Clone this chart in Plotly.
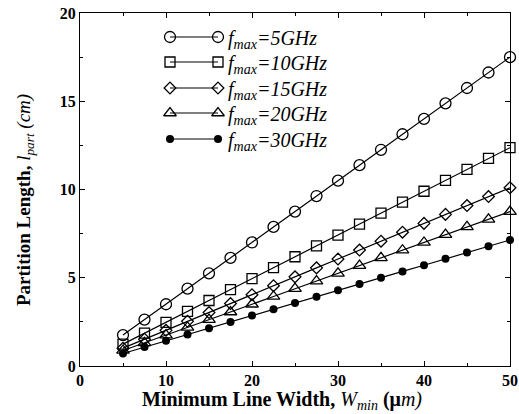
import plotly.graph_objects as go

# Data
w_min = [5, 7.5, 10, 12.5, 15, 17.5, 20, 22.5, 25, 27.5, 30, 32.5, 35, 37.5, 40, 42.5, 45, 47.5, 50]
l_5ghz = [1.75, 2.63, 3.5, 4.38, 5.25, 6.13, 7.0, 7.88, 8.75, 9.63, 10.5, 11.38, 12.25, 13.13, 14.0, 14.88, 15.75, 16.63, 17.5]
l_10ghz = [1.24, 1.86, 2.47, 3.09, 3.71, 4.33, 4.95, 5.57, 6.19, 6.81, 7.42, 8.04, 8.66, 9.28, 9.9, 10.52, 11.14, 11.76, 12.37]
l_15ghz = [1.01, 1.52, 2.02, 2.53, 3.03, 3.54, 4.04, 4.55, 5.05, 5.56, 6.06, 6.57, 7.07, 7.58, 8.08, 8.59, 9.09, 9.6, 10.1]
l_20ghz = [0.88, 1.31, 1.75, 2.19, 2.63, 3.06, 3.5, 3.94, 4.38, 4.81, 5.25, 5.69, 6.13, 6.56, 7.0, 7.44, 7.88, 8.31, 8.75]
l_30ghz = [0.71, 1.07, 1.43, 1.79, 2.14, 2.5, 2.86, 3.21, 3.57, 3.93, 4.29, 4.64, 5.0, 5.36, 5.71, 6.07, 6.43, 6.79, 7.14]
labels = ["5GHz", "10GHz", "15GHz", "20GHz", "30GHz"]
x_ticks = [0, 10, 20, 30, 40, 50]
y_ticks = [0, 5, 10, 15, 20]
series = [l_5ghz, l_10ghz, l_15ghz, l_20ghz, l_30ghz]

SERIF = "Liberation Serif"
W, H = 519, 414
ML, MR, MT, MB = 80, 9, 13, 48

styles = [
    dict(symbol="circle-open", size=11, line=dict(width=1.3, color="black")),
    dict(symbol="square-open", size=10, line=dict(width=1.3, color="black")),
    dict(symbol="diamond-open", size=9, line=dict(width=1.3, color="black")),
    dict(symbol="triangle-up-open", size=11, line=dict(width=1.3, color="black")),
    dict(symbol="circle", size=8, line=dict(width=0, color="black")),
]

fig = go.Figure()
for ys, st, lab in zip(series, styles, labels):
    fig.add_trace(go.Scatter(
        x=w_min, y=ys, mode="lines+markers", name=lab,
        line=dict(color="black", width=1.2),
        marker=dict(color="black", **st),
        showlegend=False, cliponaxis=False,
    ))

# Custom legend on an overlay pixel axis (x2: 0..430 px, y2: 0..353 px from plot top)
legend_rows = [24, 49, 75, 100, 126]
for st, lab, yr in zip(styles, labels, legend_rows):
    fig.add_trace(go.Scatter(
        x=[90, 138], y=[yr, yr], xaxis="x2", yaxis="y2",
        mode="lines+markers", line=dict(color="black", width=1.2),
        marker=dict(color="black", **st),
        showlegend=False, hoverinfo="skip",
    ))
    fig.add_annotation(
        x=146, y=yr + 2, xref="x2", yref="y2", xanchor="left", yanchor="middle",
        text="<i>f<sub>max</sub>=" + lab + "</i>", showarrow=False,
        font=dict(family=SERIF, size=20, color="black"),
    )

axis_style = dict(
    showline=True, linecolor="black", linewidth=1.3, mirror="ticks",
    ticks="inside", ticklen=5, tickwidth=1, tickcolor="black",
    showgrid=False, zeroline=False,
    tickfont=dict(family=SERIF, size=16, color="black"),
)

fig.update_layout(
    width=W, height=H,
    font=dict(family=SERIF, color="black"),
    margin=dict(l=ML, r=MR, t=MT, b=MB, autoexpand=False),
    paper_bgcolor="white", plot_bgcolor="white",
    xaxis=dict(range=[0, 50], tickvals=x_ticks, ticktext=["<b>%d</b>" % v for v in x_ticks],
               minor=dict(dtick=5, tick0=0, ticks="inside", ticklen=3, tickcolor="black"),
               **axis_style),
    yaxis=dict(range=[0, 20], tickvals=y_ticks, ticktext=["<b>%d</b>" % v for v in y_ticks],
               minor=dict(dtick=2.5, tick0=0, ticks="inside", ticklen=3, tickcolor="black"),
               **axis_style),
    xaxis2=dict(range=[0, 430], overlaying="x", visible=False, fixedrange=True),
    yaxis2=dict(range=[353, 0], overlaying="y", visible=False, fixedrange=True),
)

pw, ph = W - ML - MR, H - MT - MB


def px2paper(px, py):
    return (px - ML) / pw, (H - MB - py) / ph


# Axis titles
tx, ty = px2paper(282, 400)
fig.add_annotation(
    x=tx, y=ty, xref="paper", yref="paper", showarrow=False,
    text="<b>Minimum Line Width, </b><i>W<sub>min</sub></i> <b>(μ</b><i>m)</i>",
    font=dict(family=SERIF, size=20, color="black"),
    xanchor="center", yanchor="middle",
)
tx, ty = px2paper(25, 200)
fig.add_annotation(
    x=tx, y=ty, xref="paper", yref="paper", showarrow=False, textangle=-90,
    text="<b>Partition Length, </b><i>l<sub>part</sub></i> <i>(cm)</i>",
    font=dict(family=SERIF, size=19, color="black"),
    xanchor="center", yanchor="middle",
)

fig.write_html("out.html", config={"displayModeBar": False},
               post_script="document.body.style.margin='0';document.body.style.padding='0';")
